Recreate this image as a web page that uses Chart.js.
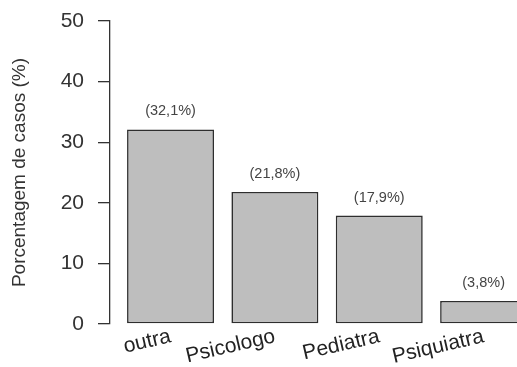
<!DOCTYPE html>
<html>
<head>
<meta charset="utf-8">
<script src="https://cdn.jsdelivr.net/npm/chart.js@4.4.1/dist/chart.umd.min.js"></script>
<style>
  html, body { margin: 0; padding: 0; background: #fff; overflow: hidden; }
  #wrap { width: 517px; height: 367px; position: relative; }
</style>
</head>
<body>
<div id="wrap"><canvas id="c"></canvas></div>
<script>
const categories = ['outra', 'Psicologo', 'Pediatra', 'Psiquiatra'];
const values = [32.1, 21.8, 17.9, 3.8];
const yTicks = [0, 10, 20, 30, 40, 50];
const yTitle = 'Porcentagem de casos (%)';

const FONT = "'Liberation Sans', Arial, Helvetica, sans-serif";

const barLabels = {
  id: 'barLabels',
  afterDatasetsDraw(chart) {
    const ctx = chart.ctx;
    const meta = chart.getDatasetMeta(0);
    ctx.save();
    ctx.font = '14.5px ' + FONT;
    ctx.fillStyle = '#444';
    ctx.textAlign = 'center';
    ctx.textBaseline = 'middle';
    meta.data.forEach((bar, i) => {
      const txt = '(' + values[i].toFixed(1).replace('.', ',') + '%)';
      ctx.fillText(txt, bar.x, bar.y - 18);
    });
    ctx.restore();
  }
};

new Chart(document.getElementById('c'), {
  type: 'bar',
  data: {
    datasets: [{
      data: values.map((v, i) => ({ x: i, y: v })),
      backgroundColor: '#BEBEBE',
      borderColor: '#2e2e2e',
      borderWidth: 1.6,
      borderSkipped: false,
      barPercentage: 1 / 1.2,
      categoryPercentage: 1
    }]
  },
  options: {
    responsive: true,
    maintainAspectRatio: false,
    animation: false,
    events: [],
    layout: { padding: { top: 21, left: 0, right: 0, bottom: 0 } },
    plugins: { legend: { display: false }, tooltip: { enabled: false } },
    scales: {
      x: {
        type: 'linear',
        offset: false,
        bounds: 'data',
        min: -0.58,
        max: 3.32,
        grid: { display: false, drawTicks: false, offset: false },
        border: { display: false },
        afterBuildTicks(scale) {
          scale.ticks = categories.map((_, i) => ({ value: i }));
        },
        afterFit(scale) { scale.height = 43; },
        ticks: {
          autoSkip: false,
          minRotation: 13,
          maxRotation: 13,
          padding: 0,
          color: '#222',
          font: { family: FONT, size: 21 },
          callback: (v) => categories[v]
        }
      },
      y: {
        min: 0,
        max: 50,
        afterBuildTicks(scale) {
          scale.ticks = yTicks.map(v => ({ value: v }));
        },
        afterFit(scale) {
          scale.width = 110;
          scale.paddingTop = 0;
          scale.paddingBottom = 0;
        },
        border: { display: true, color: '#333', width: 1.3 },
        grid: { drawOnChartArea: false, drawTicks: true, tickLength: 12, color: '#333', lineWidth: 1.3 },
        ticks: {
          padding: 14,
          color: '#333',
          font: { family: FONT, size: 21 }
        },
        title: {
          display: true,
          text: yTitle,
          color: '#333',
          padding: { top: 8, bottom: 0 },
          font: { family: FONT, size: 19 }
        }
      }
    }
  },
  plugins: [barLabels]
});
</script>
</body>
</html>
